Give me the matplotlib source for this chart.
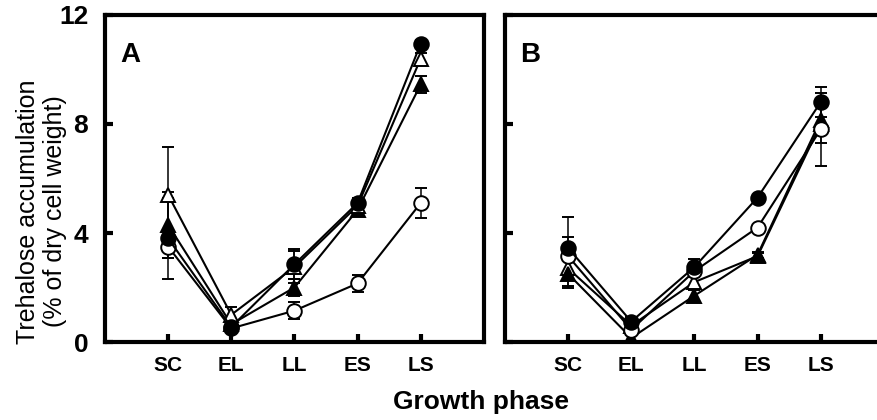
import matplotlib.pyplot as plt

plt.rcParams['font.family'] = ['Liberation Sans', 'DejaVu Sans']

phases = ['SC', 'EL', 'LL', 'ES', 'LS']

# panel A
a_closed_circle = [3.8, 0.55, 2.85, 5.1, 10.95]
a_closed_circle_err = [1.5, 0.2, 0.55, 0.2, 0.15]
a_open_circle = [3.5, 0.5, 1.15, 2.15, 5.1]
a_open_circle_err = [0.4, 0.15, 0.3, 0.3, 0.55]
a_open_tri = [5.4, 1.0, 2.75, 5.0, 10.4]
a_open_tri_err = [1.75, 0.3, 0.6, 0.2, 0.2]
a_closed_tri = [4.3, 0.65, 2.0, 4.85, 9.45]
a_closed_tri_err = [1.2, 0.2, 0.3, 0.2, 0.3]

# panel B
b_closed_circle = [3.45, 0.75, 2.75, 5.3, 8.8]
b_closed_circle_err = [1.15, 0.15, 0.3, 0.1, 0.55]
b_open_circle = [3.15, 0.45, 2.6, 4.2, 7.8]
b_open_circle_err = [0.7, 0.1, 0.2, 0.1, 1.35]
b_open_tri = [2.7, 0.6, 2.2, 3.15, 8.0]
b_open_tri_err = [0.65, 0.1, 0.2, 0.1, 0.7]
b_closed_tri = [2.5, 0.15, 1.7, 3.2, 8.15]
b_closed_tri_err = [0.5, 0.1, 0.2, 0.1, 0.5]


def draw_panel(ax, series, letter, show_ylabels):
    x = list(range(1, len(phases) + 1))
    for values, errs, marker, face in series:
        ax.errorbar(x, values, yerr=errs, color='black', lw=1.5,
                    marker=marker, markersize=10.5, markerfacecolor=face,
                    markeredgecolor='black', markeredgewidth=1.4,
                    elinewidth=1.1, capsize=4, capthick=1.1)
    ax.set_xlim(0, 6)
    ax.set_ylim(0, 12)
    ax.set_xticks(x)
    ax.set_xticklabels(phases, fontsize=15, fontweight='bold')
    ax.set_yticks([0, 4, 8, 12])
    if show_ylabels:
        ax.set_yticklabels(['0', '4', '8', '12'], fontsize=19, fontweight='bold')
    else:
        ax.set_yticklabels([])
    ax.tick_params(direction='in', length=6, width=3, pad=10)
    ax.tick_params(axis='y', pad=12)
    for sp in ax.spines.values():
        sp.set_linewidth(3)
    ax.text(0.04, 0.855, letter, transform=ax.transAxes, fontsize=20,
            fontweight='bold')


fig = plt.figure(figsize=(8.77, 4.2), dpi=100)
ax_a = fig.add_axes([0.1197, 0.1857, 0.432, 0.7786])
ax_b = fig.add_axes([0.5758, 0.1857, 0.432, 0.7786])

draw_panel(ax_a, [
    (a_open_circle, a_open_circle_err, 'o', 'white'),
    (a_closed_tri, a_closed_tri_err, '^', 'black'),
    (a_open_tri, a_open_tri_err, '^', 'white'),
    (a_closed_circle, a_closed_circle_err, 'o', 'black'),
], 'A', True)

draw_panel(ax_b, [
    (b_open_tri, b_open_tri_err, '^', 'white'),
    (b_closed_tri, b_closed_tri_err, '^', 'black'),
    (b_open_circle, b_open_circle_err, 'o', 'white'),
    (b_closed_circle, b_closed_circle_err, 'o', 'black'),
], 'B', False)

fig.text(0.047, 0.497, 'Trehalose accumulation\n(% of dry cell weight)',
         rotation=90, ha='center', va='center', multialignment='center',
         fontsize=18, linespacing=1.15)
fig.text(0.549, 0.043, 'Growth phase', ha='center', va='center',
         fontsize=19, fontweight='bold')

fig.savefig('out.png', dpi=100)
